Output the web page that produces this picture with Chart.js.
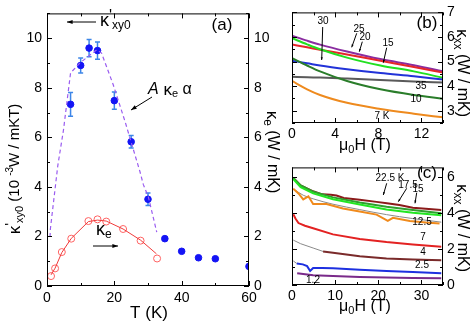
<!DOCTYPE html>
<html>
<head>
<meta charset="utf-8">
<script src="https://cdn.jsdelivr.net/npm/chart.js@4.4.0/dist/chart.umd.min.js"></script>
<style>
  body { margin: 0; background: #fff; width: 471px; height: 327px; overflow: hidden; position: relative; }
  canvas { position: absolute; }
</style>
</head>
<body>
<canvas id="chartA" width="285" height="327" style="left:0px;top:0px"></canvas>
<canvas id="chartB" width="186" height="155" style="left:285px;top:0px"></canvas>
<canvas id="chartC" width="186" height="172" style="left:285px;top:155px"></canvas>
<script>
// ---- pannello (a): kappa'xy0 e kappa_e in funzione di T ----
const tKxy = [7, 10, 12.5, 15, 20, 25, 30, 35, 40, 45, 50, 60];
const kxy0 = [7.33, 8.9, 9.6, 9.5, 7.48, 5.82, 3.5, 1.91, 1.4, 1.14, 1.1, 0.79];
const kxyErr = [0.48, 0.3, 0.35, 0.35, 0.35, 0.25, 0.25, 0, 0, 0, 0, 0];
const tKe = [1.2, 2.4, 4.4, 7.2, 12.3, 15, 17.6, 22.6, 27.8, 32.7];
const kE = [0.4, 0.71, 1.37, 1.91, 2.62, 2.69, 2.6, 2.3, 1.83, 1.11];
const tKeLine = [1.2, 2.4, 4.4, 7.2, 12.3, 15, 17.6, 22.6, 27.8, 32.5];
const kELine = [0.45, 0.72, 1.35, 1.92, 2.6, 2.66, 2.62, 2.3, 1.85, 1.3];
const tFit = [0.9, 1.0, 3.2, 4.9, 7.0, 9.8, 12.3, 14.8, 16.2, 19.7, 23.2, 25.6, 27.6, 28.6, 30.1, 32.6];
const fitAKeAlpha = [1.98, 2.3, 4.85, 6.3, 8.6, 9.0, 9.27, 9.53, 9.4, 8.11, 6.63, 5.53, 4.62, 4.1, 3.6, 2.17];
const ticksAx = [0, 20, 40, 60];
const ticksAy = [0, 2, 4, 6, 8, 10];

// ---- pannello (b): kappa_xx vs campo, 0-14 T ----
const hB = [0, 1.4, 2.6, 5.1, 8.2, 11.3, 14];
const kB7 = [4.21, 3.87, 3.64, 3.32, 3.07, 2.88, 2.73];
const kB10 = [5.14, 4.84, 4.6, 4.21, 3.87, 3.64, 3.49];
const kB35 = [4.38, 4.36, 4.35, 4.31, 4.25, 4.19, 4.15];
const kB30 = [5.03, 4.93, 4.84, 4.69, 4.53, 4.4, 4.27];
const kB25 = [5.95, 5.7, 5.5, 5.16, 4.84, 4.6, 4.34];
const kB15 = [5.69, 5.58, 5.48, 5.29, 5.03, 4.78, 4.55];
const kB20 = [6.05, 5.85, 5.69, 5.41, 5.1, 4.85, 4.6];
const ticksBx = [0, 4, 8, 12];
const ticksBy = [3, 4, 5, 6, 7];

// ---- pannello (c): kappa_xx vs campo, 0-35 T ----
const hC225 = [0.3, 2, 4.9, 7, 9, 10.3, 12, 15.7, 19.6, 22, 24.9, 28, 31, 34.6];
const kC225 = [5.96, 5.55, 5.22, 5.05, 5.02, 4.98, 4.85, 4.75, 4.63, 4.55, 4.45, 4.3, 4.25, 4.18];
const hCg = [0.3, 2, 4.9, 9.5, 15.7, 21.9, 28, 34.6];
const kC175 = [5.96, 5.55, 5.2, 4.88, 4.6, 4.36, 4.18, 4.0];
const kC15 = [5.9, 5.45, 5.1, 4.78, 4.48, 4.2, 4.02, 3.88];
const hC125 = [0.3, 1.5, 2.6, 3.8, 4.9, 8, 11.8, 15.7, 19.6, 22.2, 23.4, 27.3, 31.1, 34.2];
const kC125 = [5.36, 5.1, 4.77, 4.94, 4.51, 4.51, 4.26, 4.09, 3.92, 3.57, 3.74, 3.57, 3.48, 3.43];
const hC125fit = [0.3, 2.6, 4.9, 9.5, 15.7, 21.9, 28, 34.6];
const kC125fit = [5.35, 5.0, 4.8, 4.5, 4.2, 3.92, 3.7, 3.5];
const hC7 = [0.3, 0.8, 1.5, 3, 4.9, 9.5, 15.7, 21.9, 28, 34.6];
const kC7 = [3.94, 3.7, 3.45, 3.3, 3.16, 2.82, 2.56, 2.39, 2.26, 2.13];
const hC4fit = [0.3, 2, 4.9, 7.2];
const kC4fit = [2.5, 2.3, 2.06, 1.87];
const hC4 = [7.2, 9.5, 15.7, 21.9, 28, 34.6];
const kC4 = [1.87, 1.8, 1.6, 1.48, 1.42, 1.38];
const hC25fit = [0.3, 1.1];
const kC25fit = [1.34, 1.2];
const hC25 = [1.1, 2.5, 3.5, 4.2, 4.9, 7, 9.5, 15.7, 21.9, 28, 34.6];
const kC25 = [1.2, 1.15, 1.05, 0.78, 0.95, 0.95, 0.93, 0.85, 0.78, 0.72, 0.66];
const hC12 = [1.2, 4.9, 9.5, 15.7, 21.9, 28, 34.6];
const kC12 = [0.66, 0.54, 0.5, 0.45, 0.42, 0.39, 0.37];
const ticksCx = [0, 10, 20, 30];
const ticksCy = [0, 2, 4, 6];

const FONT = '"Liberation Sans", Arial, sans-serif';
Chart.defaults.font.family = FONT;
Chart.defaults.font.size = 14;
Chart.defaults.color = '#000';

function pts(xs, ys) {
  return xs.map((x, i) => ({ x: x, y: ys[i] }));
}

// testo con pedici / apici: parts = [testo, size, dy, stile]
function rich(ctx, x, y, parts, rot, align) {
  ctx.save();
  ctx.translate(x, y);
  ctx.rotate(rot || 0);
  ctx.fillStyle = '#000';
  ctx.textBaseline = 'middle';
  ctx.textAlign = 'left';
  let w = 0;
  parts.forEach(p => {
    ctx.font = (p[3] || '') + ' ' + p[1] + 'px ' + FONT;
    w += ctx.measureText(p[0]).width;
  });
  let cx = align === 'left' ? 0 : -w / 2;
  parts.forEach(p => {
    ctx.font = (p[3] || '') + ' ' + p[1] + 'px ' + FONT;
    ctx.fillText(p[0], cx, p[2] || 0);
    cx += ctx.measureText(p[0]).width;
  });
  ctx.restore();
}

function arrow(ctx, x1, y1, x2, y2, head) {
  const ang = Math.atan2(y2 - y1, x2 - x1);
  ctx.save();
  ctx.strokeStyle = '#000';
  ctx.fillStyle = '#000';
  ctx.lineWidth = 1;
  ctx.beginPath();
  ctx.moveTo(x1, y1);
  ctx.lineTo(x2, y2);
  ctx.stroke();
  ctx.beginPath();
  ctx.moveTo(x2, y2);
  ctx.lineTo(x2 - head * Math.cos(ang - 0.35), y2 - head * Math.sin(ang - 0.35));
  ctx.lineTo(x2 - head * Math.cos(ang + 0.35), y2 - head * Math.sin(ang + 0.35));
  ctx.closePath();
  ctx.fill();
  ctx.restore();
}

// cornice con tacche interne su tutti i lati
function frame(chart, xs, ys) {
  const ctx = chart.ctx, a = chart.chartArea;
  const sx = chart.scales.x, sy = chart.scales.y;
  ctx.save();
  ctx.strokeStyle = '#000';
  ctx.lineWidth = 1;
  ctx.strokeRect(a.left + 0.5, a.top + 0.5, a.right - a.left - 1, a.bottom - a.top - 1);
  ctx.beginPath();
  for (let v = xs.min; v <= xs.max + 1e-6; v += xs.minor) {
    const major = Math.abs(v / xs.major - Math.round(v / xs.major)) < 1e-6;
    const len = major ? 5 : 3;
    const p = Math.round(sx.getPixelForValue(v)) + 0.5;
    ctx.moveTo(p, a.bottom); ctx.lineTo(p, a.bottom - len);
    ctx.moveTo(p, a.top); ctx.lineTo(p, a.top + len);
  }
  for (let v = ys.min; v <= ys.max + 1e-6; v += ys.minor) {
    const major = Math.abs(v / ys.major - Math.round(v / ys.major)) < 1e-6;
    const len = major ? 5 : 3;
    const p = Math.round(sy.getPixelForValue(v)) + 0.5;
    ctx.moveTo(a.left, p); ctx.lineTo(a.left + len, p);
    ctx.moveTo(a.right, p); ctx.lineTo(a.right - len, p);
  }
  ctx.stroke();
  ctx.restore();
}

function axis(pos, min, max, ticks, fitFn, pad) {
  return {
    type: 'linear', position: pos, min: min, max: max,
    grid: { display: false, drawTicks: false },
    border: { display: false },
    ticks: { padding: pad, autoSkip: false, maxRotation: 0, font: { size: 14 } },
    afterBuildTicks: s => { s.ticks = ticks.map(v => ({ value: v })); },
    afterFit: fitFn
  };
}

const baseOpts = {
  responsive: false,
  animation: false,
  devicePixelRatio: 1,
  plugins: { legend: { display: false }, tooltip: { enabled: false } }
};

function lineDs(xs, ys, color, width, extra) {
  return Object.assign({
    data: pts(xs, ys), showLine: true, borderColor: color, borderWidth: width,
    pointRadius: 0, tension: 0, fill: false
  }, extra || {});
}

// ===== grafico (a) =====
new Chart(document.getElementById('chartA'), {
  type: 'scatter',
  data: {
    datasets: [
      lineDs(tFit, fitAKeAlpha, '#9a5cf0', 1.2, { borderDash: [4, 3], yAxisID: 'y' }),
      lineDs(tKeLine, kELine, '#f03a3a', 1, { yAxisID: 'y2' }),
      {
        data: pts(tKe, kE), showLine: false, pointRadius: 3.5, pointBorderWidth: 1,
        pointBorderColor: '#ff6262', pointBackgroundColor: 'rgba(255,255,255,0)', yAxisID: 'y2'
      },
      {
        data: pts(tKxy, kxy0), showLine: false, pointRadius: 3.3, pointBorderWidth: 1,
        pointBorderColor: '#1414f5', pointBackgroundColor: '#1414f5', yAxisID: 'y', clip: 0
      }
    ]
  },
  options: Object.assign({}, baseOpts, {
    layout: { padding: { top: 3, left: 0, right: 0, bottom: 0 } },
    scales: {
      x: axis('bottom', 0, 60, ticksAx, s => { s.height = 41; }, 4),
      y: axis('left', 0, 11, ticksAy, s => { s.width = 47; }, 5),
      y2: axis('right', 0, 11, ticksAy, s => { s.width = 36; }, 5)
    }
  }),
  plugins: [{
    id: 'decorA',
    beforeDatasetsDraw(chart) {
      const ctx = chart.ctx, sx = chart.scales.x, sy = chart.scales.y;
      ctx.save();
      ctx.strokeStyle = '#3d86e8';
      ctx.lineWidth = 1.5;
      ctx.beginPath();
      tKxy.forEach((t, i) => {
        if (!kxyErr[i]) return;
        const px = sx.getPixelForValue(t);
        const y1 = sy.getPixelForValue(kxy0[i] - kxyErr[i]);
        const y2 = sy.getPixelForValue(kxy0[i] + kxyErr[i]);
        ctx.moveTo(px, y1); ctx.lineTo(px, y2);
        ctx.moveTo(px - 2.5, y1); ctx.lineTo(px + 2.5, y1);
        ctx.moveTo(px - 2.5, y2); ctx.lineTo(px + 2.5, y2);
      });
      ctx.stroke();
      ctx.restore();
    },
    afterDraw(chart) {
      const ctx = chart.ctx;
      frame(chart, { min: 0, max: 60, major: 20, minor: 10 }, { min: 0, max: 11, major: 2, minor: 1 });
      rich(ctx, 222, 25, [['(a)', 17]]);
      rich(ctx, 100, 21, [['κ', 18, 0], ["'", 16, -4], ['xy0', 12, 5]], 0, 'left');
      arrow(ctx, 96, 22, 67, 22, 6);
      rich(ctx, 148, 90, [['A', 16, 0, 'italic'], [' κ', 17, 0], ['e', 11, 4], [' α', 16, 0]], 0, 'left');
      arrow(ctx, 152, 97, 131, 110, 6);
      rich(ctx, 96, 230, [['κ', 18, 0], ['e', 12, 5]], 0, 'left');
      arrow(ctx, 93, 246, 118, 246, 6);
      rich(ctx, 15, 169, [['κ', 17, 0], ["'", 15, -4], ['xy0', 11, 5], [' (10 ', 15, 0], ['-3', 10, -5], ['W / mKT)', 15, 0]], -Math.PI / 2);
      rich(ctx, 149, 313, [['T (K)', 17]]);
      rich(ctx, 272, 152, [['κ', 17, 0], ['e', 12, 5], [' (W / mK)', 16, 0]], Math.PI / 2);
    }
  }]
});

// ===== grafico (b) =====
new Chart(document.getElementById('chartB'), {
  type: 'scatter',
  data: {
    datasets: [
      lineDs(hB, kB7, '#ee8a1e', 2, { cubicInterpolationMode: 'monotone' }),
      lineDs(hB, kB10, '#2a7d2a', 2, { cubicInterpolationMode: 'monotone' }),
      lineDs(hB, kB35, '#5a5a5a', 2, { cubicInterpolationMode: 'monotone' }),
      lineDs(hB, kB30, '#2233d8', 2, { cubicInterpolationMode: 'monotone' }),
      lineDs(hB, kB25, '#22e020', 2, { cubicInterpolationMode: 'monotone' }),
      lineDs(hB, kB15, '#e62628', 2, { cubicInterpolationMode: 'monotone' }),
      lineDs(hB, kB20, '#8a2ca0', 2, { cubicInterpolationMode: 'monotone' })
    ]
  },
  options: Object.assign({}, baseOpts, {
    layout: { padding: { top: 5, left: 7, right: 0, bottom: 0 } },
    scales: {
      x: axis('bottom', 0, 14, ticksBx, s => { s.height = 32; }, 3),
      y: axis('right', 2.5, 7, ticksBy, s => { s.width = 28; }, 4)
    }
  }),
  plugins: [{
    id: 'decorB',
    afterDraw(chart) {
      const ctx = chart.ctx;
      frame(chart, { min: 0, max: 14, major: 4, minor: 2 }, { min: 2.5, max: 7, major: 1, minor: 0.5 });
      rich(ctx, 142, 23, [['(b)', 17]]);
      rich(ctx, 38, 21, [['30', 10]]);
      rich(ctx, 74, 29, [['25', 10]]);
      rich(ctx, 80, 37, [['20', 10]]);
      rich(ctx, 103, 43, [['15', 10]]);
      rich(ctx, 136, 86, [['35', 10]]);
      rich(ctx, 131, 99, [['10', 10]]);
      rich(ctx, 97, 116, [['7 K', 10]]);
      arrow(ctx, 37.7, 27, 36.7, 60, 3);
      arrow(ctx, 71.7, 33.3, 66.7, 47.3, 3);
      arrow(ctx, 77.3, 41.7, 74.3, 51.7, 3);
      arrow(ctx, 101.7, 47.7, 98.3, 62.7, 3);
      rich(ctx, 80, 146, [['μ', 16, 0], ['0', 11, 4], ['H (T)', 16, 0]]);
      rich(ctx, 177, 73, [['κ', 17, 0], ['xx', 12, 5], [' (W / mK)', 16, 0]], Math.PI / 2);
    }
  }]
});

// ===== grafico (c) =====
new Chart(document.getElementById('chartC'), {
  type: 'scatter',
  data: {
    datasets: [
      lineDs(hC12, kC12, '#7a2a8a', 2),
      lineDs(hC25fit, kC25fit, '#8a8a8a', 1),
      lineDs(hC25, kC25, '#1d30e0', 2),
      lineDs(hC4fit, kC4fit, '#8a8a8a', 1),
      lineDs(hC4, kC4, '#7a2a2a', 2),
      lineDs(hC7, kC7, '#e32222', 2),
      lineDs(hC125, kC125, '#f08a1c', 2),
      lineDs(hC125fit, kC125fit, '#8a8a8a', 1, { cubicInterpolationMode: 'monotone' }),
      lineDs(hCg, kC15, '#22e622', 2),
      lineDs(hCg, kC175, '#2ea02e', 2),
      lineDs(hC225, kC225, '#8b1a1a', 2)
    ]
  },
  options: Object.assign({}, baseOpts, {
    layout: { padding: { top: 2, left: 7, right: 0, bottom: 0 } },
    scales: {
      x: axis('bottom', 0, 35, ticksCx, s => { s.height = 42; }, 3),
      y: axis('right', 0, 6.55, ticksCy, s => { s.width = 28; }, 4)
    }
  }),
  plugins: [{
    id: 'decorC',
    afterDraw(chart) {
      const ctx = chart.ctx;
      frame(chart, { min: 0, max: 35, major: 10, minor: 5 }, { min: 0, max: 6.55, major: 2, minor: 1 });
      rich(ctx, 142, 18, [['(c)', 17]]);
      rich(ctx, 105, 23, [['22.5 K', 10]]);
      rich(ctx, 123, 30, [['17.5', 10]]);
      rich(ctx, 133, 34, [['15', 10]]);
      rich(ctx, 137, 67, [['12.5', 10]]);
      rich(ctx, 138, 82, [['7', 10]]);
      rich(ctx, 138, 97, [['4', 10]]);
      rich(ctx, 137, 110, [['2.5', 10]]);
      rich(ctx, 28, 125, [['1.2', 10]]);
      arrow(ctx, 101.7, 28.3, 98.3, 40, 3);
      arrow(ctx, 121.7, 33.3, 113.3, 46.7, 3);
      arrow(ctx, 131.7, 37.7, 130, 48.3, 3);
      rich(ctx, 80, 152, [['μ', 16, 0], ['0', 11, 4], ['H (T)', 16, 0]]);
      rich(ctx, 177, 73, [['κ', 17, 0], ['xx', 12, 5], [' (W / mK)', 16, 0]], Math.PI / 2);
    }
  }]
});
</script>
</body>
</html>
